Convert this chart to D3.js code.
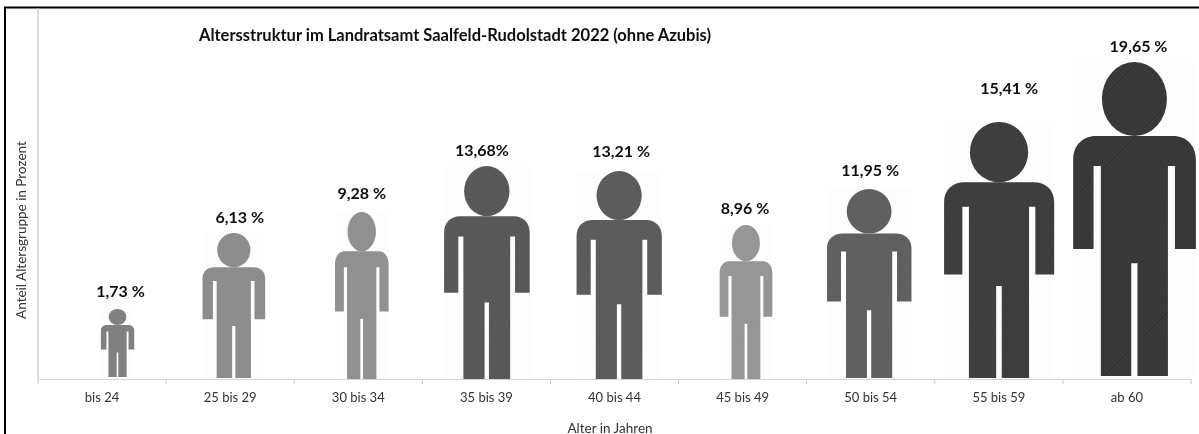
<!DOCTYPE html>
<html>
<head>
<meta charset="utf-8">
<script src="https://cdn.jsdelivr.net/npm/d3@7"></script>
<style>
    html, body { margin: 0; padding: 0; background: #fff; }
    svg { display: block; }
    text { font-family: Lato, "Open Sans", sans-serif; }
</style>
</head>
<body>
<div id="chart"></div>
<script>
var categories = ['bis 24', '25 bis 29', '30 bis 34', '35 bis 39', '40 bis 44', '45 bis 49', '50 bis 54', '55 bis 59', 'ab 60'];
var values = [1.73, 6.13, 9.28, 13.68, 13.21, 8.96, 11.95, 15.41, 19.65];
var valueLabels = ['1,73 %', '6,13 %', '9,28 %', '13,68%', '13,21 %', '8,96 %', '11,95 %', '15,41 %', '19,65 %'];
var greys = ['#7d7d7d', '#8a8a8a', '#8e8e8e', '#545454', '#575757', '#939393', '#5c5c5c', '#393939', '#333333'];

var aspect = [0.49, 0.432, 0.321, 0.402, 0.41, 0.342, 0.447, 0.43, 0.391];
var shiftX = [15.5, 3.7, 3.5, 0.5, 4.7, 3.4, -1.5, 0.3, 7.6];
var labelLift = [12, 10, 13, 10, 14, 11, 13, 28, 10];
var labelShift = [3, 6, 0, -5, 2, -1, 1, 10, 4];

var width = 1199, height = 434;
var baseline = 379;

var svg = d3.select('#chart').append('svg')
    .attr('width', width)
    .attr('height', height);

var defs = svg.append('defs');

defs.append('filter').attr('id', 'soft')
    .append('feGaussianBlur').attr('stdDeviation', 0.4);

var hatch = defs.append('pattern')
    .attr('id', 'hatch')
    .attr('patternUnits', 'userSpaceOnUse')
    .attr('width', 3)
    .attr('height', 3)
    .attr('patternTransform', 'rotate(-45)');
hatch.append('line')
    .attr('x1', 0).attr('y1', 1).attr('x2', 3).attr('y2', 1)
    .style('stroke', '#fff').style('stroke-opacity', 0.08).style('stroke-width', 1);

var root = svg.append('g').attr('filter', 'url(#soft)');

var x = d3.scaleBand().domain(categories).range([38, 1191]);

// figure heights in the original do not grow strictly with the value
var sorted = values.slice().sort(d3.ascending);
var figureHeight = d3.scaleLinear()
    .domain(sorted)
    .range([68, 145, 154, 167, 189, 208, 213, 256, 314]);

// outer frame
root.append('path')
    .attr('d', 'M5,' + height + 'V7.5H' + width)
    .style('fill', 'none').style('stroke', '#000').style('stroke-width', 2);

// y axis line
root.append('line')
    .attr('x1', 38).attr('x2', 38).attr('y1', 8).attr('y2', baseline)
    .style('stroke', '#c4c4c4').style('stroke-width', 1.2);

// body outline in unit coordinates, head is separate
function bodyPath(sx, sy) {
    var p = d3.path();
    p.moveTo(sx(0.185), sy(0.2357));
    p.lineTo(sx(0.815), sy(0.2357));
    p.bezierCurveTo(sx(0.92), sy(0.2357), sx(1), sy(0.265), sx(1), sy(0.312));
    p.lineTo(sx(1), sy(0.5955));
    p.lineTo(sx(0.829), sy(0.5955));
    p.lineTo(sx(0.829), sy(0.331));
    p.lineTo(sx(0.772), sy(0.331));
    p.lineTo(sx(0.772), sy(1));
    p.lineTo(sx(0.524), sy(1));
    p.lineTo(sx(0.524), sy(0.641));
    p.lineTo(sx(0.473), sy(0.641));
    p.lineTo(sx(0.473), sy(1));
    p.lineTo(sx(0.2255), sy(1));
    p.lineTo(sx(0.2255), sy(0.331));
    p.lineTo(sx(0.166), sy(0.331));
    p.lineTo(sx(0.166), sy(0.5955));
    p.lineTo(sx(0), sy(0.5955));
    p.lineTo(sx(0), sy(0.312));
    p.bezierCurveTo(sx(0), sy(0.265), sx(0.08), sy(0.2357), sx(0.185), sy(0.2357));
    p.closePath();
    return p.toString();
}

values.forEach(function (v, i) {
    var h = figureHeight(v);
    var w = h * aspect[i];
    var cx = x(categories[i]) + x.bandwidth() / 2 + shiftX[i];
    var bottom = baseline - (i === 8 ? 3 : i === 0 ? 2 : (i === 1 || i >= 6) ? 1 : 0);
    var top = bottom - h;

    var sx = d3.scaleLinear().domain([0, 1]).range([cx - w / 2, cx + w / 2]);
    var sy = d3.scaleLinear().domain([0, 1]).range([top, bottom]);

    var g = root.append('g').attr('class', 'figure');

    g.append('rect')
        .attr('x', sx(0)).attr('y', top)
        .attr('width', w).attr('height', h)
        .style('fill', '#fefdfd');

    [greys[i], 'url(#hatch)'].forEach(function (fill) {
        g.append('path').attr('d', bodyPath(sx, sy)).style('fill', fill);
        g.append('ellipse')
            .attr('cx', sx(0.499)).attr('cy', sy(0.118))
            .attr('rx', (sx(0.764) - sx(0.234)) / 2)
            .attr('ry', (sy(0.2357) - sy(0)) / 2)
            .style('fill', fill);
    });

    root.append('text')
        .attr('x', cx + labelShift[i])
        .attr('y', top - labelLift[i])
        .attr('text-anchor', 'middle')
        .style('font-size', '16px')
        .style('font-weight', 700)
        .style('fill', '#111')
        .text(valueLabels[i]);
});

// x axis, ticks sit on the band edges
var edges = x.domain().map(function (d) { return x(d); }).concat([x.range()[1]]);
root.selectAll('.edge').data(edges).enter().append('line')
    .attr('class', 'edge')
    .attr('x1', function (d) { return d; })
    .attr('x2', function (d) { return d; })
    .attr('y1', baseline)
    .attr('y2', baseline + 5)
    .style('stroke', '#c8c8c8');

var axis = root.append('g')
    .attr('transform', 'translate(0,' + baseline + ')')
    .call(d3.axisBottom(x).tickSize(0).tickPadding(14));
axis.select('.domain').style('stroke', '#d4d4d4');
axis.selectAll('text')
    .style('font-family', 'Lato, "Open Sans", sans-serif')
    .style('font-size', '13px')
    .style('fill', '#333');

root.append('text')
    .attr('x', 610).attr('y', 432.5)
    .attr('text-anchor', 'middle')
    .style('font-size', '13.5px').style('fill', '#333')
    .text('Alter in Jahren');

root.append('text')
    .attr('transform', 'translate(26,230) rotate(-90)')
    .attr('text-anchor', 'middle')
    .style('font-size', '13.5px').style('fill', '#333')
    .text('Anteil Altersgruppe in Prozent');

root.append('text')
    .attr('x', 199).attr('y', 41)
    .style('font-size', '16.5px')
    .style('font-weight', 700)
    .style('fill', '#111')
    .text('Altersstruktur im Landratsamt Saalfeld-Rudolstadt 2022 (ohne Azubis)');
</script>
</body>
</html>
